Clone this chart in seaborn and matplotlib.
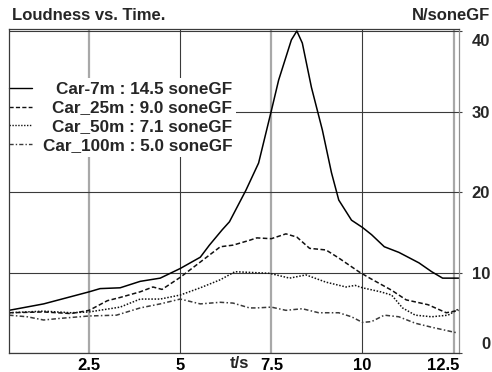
import numpy as np
import pandas as pd
import matplotlib
matplotlib.use("Agg")
import matplotlib.pyplot as plt
from matplotlib.ticker import FixedLocator, FixedFormatter
from matplotlib.transforms import blended_transform_factory, ScaledTranslation
import seaborn as sns

# ---- data ----
t_7m = [0.3, 1.25, 2.5, 2.8, 3.35, 3.9, 4.45, 5.0, 5.55, 5.8, 6.15, 6.35, 6.8, 7.15, 7.5,
        7.7, 8.05, 8.2, 8.35, 8.6, 8.9, 9.15, 9.35, 9.7, 10.0, 10.25, 10.6, 11.0, 11.55,
        11.9, 12.2, 12.65]
v_7m = [5.3, 6.1, 7.6, 8.0, 8.1, 8.9, 9.3, 10.5, 11.9, 13.4, 15.3, 16.3, 20.2, 23.6, 30.1,
        33.9, 38.9, 40.0, 38.5, 33.0, 27.7, 22.4, 19.0, 16.5, 15.6, 14.7, 13.2, 12.5, 11.2,
        10.1, 9.3, 9.3]

t_25m = [0.3, 1.25, 2.0, 2.5, 3.0, 3.35, 3.9, 4.25, 4.5, 5.0, 5.55, 6.1, 6.45, 6.9, 7.1,
         7.5, 7.9, 8.2, 8.55, 9.0, 9.35, 9.9, 10.2, 10.8, 11.2, 11.8, 12.3, 12.65]
v_25m = [5.0, 5.1, 4.9, 5.3, 6.5, 6.9, 7.6, 8.2, 7.9, 9.4, 11.3, 13.2, 13.4, 14.0, 14.3,
         14.2, 14.8, 14.4, 13.0, 12.8, 11.8, 10.1, 9.3, 7.8, 6.6, 6.0, 5.0, 5.3]

t_50m = [0.3, 1.25, 2.0, 2.5, 3.35, 3.9, 4.45, 5.0, 5.55, 6.1, 6.5, 7.45, 8.0, 8.45, 9.0,
         9.55, 9.8, 10.0, 10.5, 10.8, 11.1, 11.45, 11.9, 12.35, 12.65]
v_50m = [5.0, 5.2, 5.0, 5.1, 5.7, 6.7, 6.7, 7.2, 8.1, 9.1, 10.1, 9.9, 9.3, 9.7, 8.8,
         8.2, 8.4, 8.1, 7.6, 7.2, 5.6, 4.7, 4.5, 4.7, 5.5]

t_100m = [0.3, 0.8, 1.25, 1.7, 2.5, 3.25, 3.9, 4.45, 5.0, 5.55, 6.1, 6.45, 6.9, 7.1, 7.5,
          7.9, 8.35, 8.8, 9.35, 9.7, 10.0, 10.25, 10.6, 11.0, 11.45, 11.9, 12.6]
v_100m = [4.7, 4.5, 4.1, 4.3, 4.6, 4.7, 5.6, 6.1, 6.7, 6.1, 6.3, 6.2, 5.6, 5.6, 5.7,
          5.3, 5.5, 5.0, 5.0, 4.5, 3.8, 3.9, 4.7, 4.5, 3.7, 3.2, 2.5]

labels = ["Car-7m : 14.5 soneGF", "Car_25m : 9.0 soneGF",
          "Car_50m : 7.1 soneGF", "Car_100m : 5.0 soneGF"]
x_major = [5, 10]
x_minor = [2.5, 7.5, 12.5]
y_ticks = [0, 10, 20, 30, 40]

frames = []
for lab, tt, vv in zip(labels, [t_7m, t_25m, t_50m, t_100m], [v_7m, v_25m, v_50m, v_100m]):
    frames.append(pd.DataFrame({"t": tt, "N": vv, "series": lab}))
df = pd.concat(frames, ignore_index=True)

sns.set_style("white")
plt.rcParams["font.family"] = ["Liberation Sans", "DejaVu Sans"]
plt.rcParams["font.weight"] = "bold"

W, H = 492, 372
fig = plt.figure(figsize=(W / 100, H / 100), dpi=100)
L, R, T, B = 9, 459, 29, 353
ax = fig.add_axes([L / W, 1 - B / H, (R - L) / W, (B - T) / H])

dashes = {labels[0]: "", labels[1]: (3, 1.6), labels[2]: (1, 1.1), labels[3]: (3, 1.5, 1, 1.5)}
palette = {labels[0]: "#000000", labels[1]: "#111111", labels[2]: "#111111", labels[3]: "#3a3a3a"}
sns.lineplot(data=df, x="t", y="N", hue="series", style="series", dashes=dashes,
             palette=palette, hue_order=labels, style_order=labels, ax=ax,
             linewidth=1.1, sort=False, estimator=None, legend=True)

ax.set_xlim(0.3, 12.65)
ax.set_ylim(0, 40.25)
ax.set_xlabel("")
ax.set_ylabel("")

fs = 12
# ticks / grid
ax.xaxis.set_major_locator(FixedLocator(x_major))
ax.xaxis.set_minor_locator(FixedLocator(x_minor))
ax.xaxis.set_major_formatter(FixedFormatter([str(v) for v in x_major]))
ax.xaxis.set_minor_formatter(FixedFormatter([str(v) for v in x_minor]))
ax.yaxis.set_major_locator(FixedLocator(y_ticks))
ax.yaxis.set_major_formatter(FixedFormatter([str(v) for v in y_ticks]))
ax.yaxis.tick_right()
ax.tick_params(axis="x", which="both", length=2, pad=1.5, labelsize=fs, colors="#000000")
ax.tick_params(axis="x", which="minor", color="#a0a0a0")
ax.tick_params(axis="y", which="major", length=2, pad=(490 - R) * 0.72 - 2,
               labelsize=fs, color="#404040")
for lbl in ax.get_xticklabels(which="both") + ax.get_yticklabels():
    lbl.set_fontweight("bold")

# y labels right-aligned; end labels kept inside the axes span
ylabs = ax.get_yticklabels()
for lbl in ylabs:
    lbl.set_ha("right")
ylabs[0].set_va("baseline")
ylabs[0].set_transform(ylabs[0].get_transform() + ScaledTranslation(0, 4 / 100, fig.dpi_scale_trans))
ylabs[-1].set_va("top")
ylabs[-1].set_transform(ylabs[-1].get_transform() + ScaledTranslation(0, -2.5 / 100, fig.dpi_scale_trans))
# last x label kept inside the axes
xmin_labs = ax.get_xticklabels(which="minor")
xmin_labs[-1].set_ha("right")
xmin_labs[-1].set_transform(xmin_labs[-1].get_transform() + ScaledTranslation(6 / 100, 0, fig.dpi_scale_trans))

ax.grid(True, axis="x", which="major", color="#3a3a3a", linewidth=0.8)
ax.grid(True, axis="x", which="minor", color="#a8a8a8", linewidth=1.6)
ax.grid(True, axis="y", which="major", color="#3a3a3a", linewidth=0.8)
ax.set_axisbelow(True)

for side in ["left", "top", "bottom"]:
    ax.spines[side].set_color("#3a3a3a")
    ax.spines[side].set_linewidth(0.9)
ax.spines["right"].set_color("#909090")
ax.spines["right"].set_linewidth(0.9)

# "t/s" axis label among the tick labels
trans = blended_transform_factory(ax.transData, fig.transFigure)
ax.text(6.62, 1 - 363 / H, "t/s", transform=trans, ha="center", va="center",
        fontsize=fs, fontweight="bold")

# titles
fig.text(12 / W, 1 - 15 / H, "Loudness vs. Time.", ha="left", va="center",
         fontsize=fs, fontweight="bold")
fig.text(490 / W, 1 - 15 / H, "N/soneGF", ha="right", va="center",
         fontsize=fs, fontweight="bold")

# legend
lfs = 12.3
handles, labs = ax.get_legend_handles_labels()
leg = ax.legend(handles, labs, loc="upper left",
                bbox_to_anchor=(-3.9 / (R - L), 1 - (78 - T) / (B - T)),
                frameon=True, facecolor="white", edgecolor="none", framealpha=1,
                fancybox=False, fontsize=lfs, handlelength=1.35, handletextpad=0.62,
                labelspacing=0.22, borderpad=0.22, borderaxespad=0)
for txt in leg.get_texts():
    txt.set_fontweight("bold")
for ln in leg.get_lines():
    ln.set_linewidth(1.0)
leg.set_zorder(2.4)

# right-align the legend labels
fig.canvas.draw()
renderer = fig.canvas.get_renderer()
widths = [t.get_window_extent(renderer).width for t in leg.get_texts()]
maxw = max(widths)
items = leg._legend_handle_box.get_children()[0].get_children()
for item, w in zip(items, widths):
    item.sep = item.sep + (maxw - w) * 72 / fig.dpi

fig.savefig("out.png", dpi=100)
